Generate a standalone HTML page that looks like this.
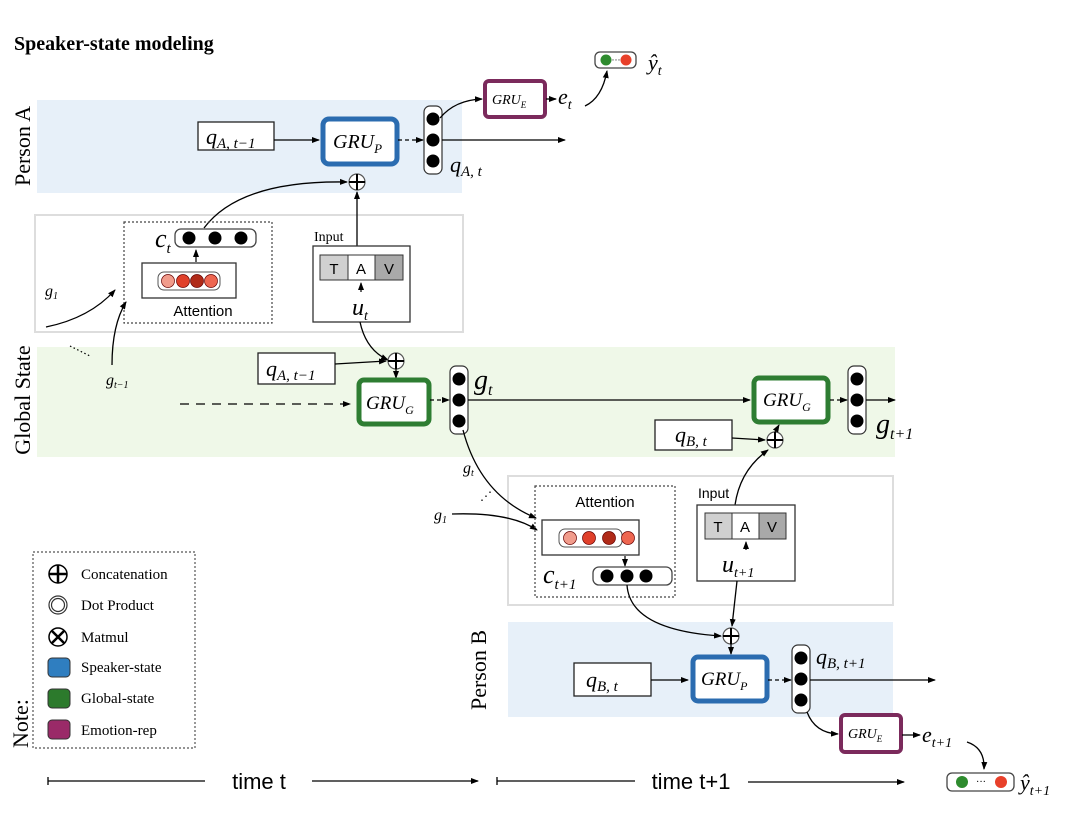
<!DOCTYPE html>
<html><head><meta charset="utf-8"><style>
html,body{margin:0;padding:0;background:#fff;}
svg{display:block;}
.s{font-family:"Liberation Serif",serif;font-style:italic;}
.r{font-family:"Liberation Serif",serif;}
.a{font-family:"Liberation Sans",sans-serif;}
</style></head><body>
<svg width="1080" height="821" viewBox="0 0 1080 821" xmlns="http://www.w3.org/2000/svg">
<defs>
<marker id="ar" markerWidth="8" markerHeight="8" refX="7" refY="4" orient="auto" markerUnits="userSpaceOnUse"><path d="M0,1 L8,4 L0,7 Z" fill="#000"/></marker>
<g id="cc"><circle r="8" fill="#fff" stroke="#555" stroke-width="1.2"/><path d="M-8,0H8M0,-8V8" stroke="#000" stroke-width="2"/></g>
<g id="v3"><rect x="-9" y="-34" width="18" height="68" rx="6" fill="#fff" stroke="#333" stroke-width="1.2"/><circle cy="-21" r="6.5" fill="#000"/><circle cy="0" r="6.5" fill="#000"/><circle cy="21" r="6.5" fill="#000"/></g>
</defs>
<text x="14" y="50" class="r" font-weight="bold" font-size="20">Speaker-state modeling</text>

<rect x="37" y="100" width="425" height="93" fill="#e7f0f9"/>
<rect x="37" y="347" width="858" height="110" fill="#eff8e8"/>
<rect x="508" y="622" width="385" height="95" fill="#e7f0f9"/>
<rect x="35" y="215" width="428" height="117" fill="#fff" stroke="#ddd" stroke-width="2"/>
<rect x="508" y="476" width="385" height="129" fill="#fff" stroke="#ddd" stroke-width="2"/>

<text transform="translate(30,146) rotate(-90)" text-anchor="middle" class="r" font-size="22">Person A</text>
<text transform="translate(30,400) rotate(-90)" text-anchor="middle" class="r" font-size="22">Global State</text>
<text transform="translate(486,670) rotate(-90)" text-anchor="middle" class="r" font-size="22">Person B</text>

<rect x="198" y="122" width="76" height="28" fill="#fff" stroke="#222" stroke-width="1.3"/>
<text x="206" y="144" class="s" font-size="22">q<tspan font-size="15" dy="4">A, t−1</tspan></text>
<line x1="274" y1="140" x2="319" y2="140" stroke="#000" stroke-width="1.3" marker-end="url(#ar)"/>
<rect x="323" y="119" width="74" height="45" rx="6" fill="#fff" stroke="#2b6cb0" stroke-width="5"/>
<text x="333" y="148" class="s" font-size="20">GRU<tspan font-size="13" dy="5">P</tspan></text>
<line x1="398" y1="140" x2="423" y2="140" stroke="#000" stroke-width="1.3" stroke-dasharray="4,3" marker-end="url(#ar)"/>
<use href="#v3" x="433" y="140"/>
<line x1="442" y1="140" x2="565" y2="140" stroke="#000" stroke-width="1.3" marker-end="url(#ar)"/>
<text x="450" y="172" class="s" font-size="22">q<tspan font-size="15" dy="4">A, t</tspan></text>
<path d="M440,118 Q455,100 482,99" fill="none" stroke="#000" stroke-width="1.3" marker-end="url(#ar)"/>
<rect x="485" y="81" width="60" height="36" rx="4" fill="#fff" stroke="#7b2a5c" stroke-width="4"/>
<text x="492" y="104" class="s" font-size="14">GRU<tspan font-size="9" dy="4">E</tspan></text>
<line x1="546" y1="99" x2="556" y2="99" stroke="#000" stroke-width="1.3" marker-end="url(#ar)"/>
<text x="558" y="104" class="s" font-size="22">e<tspan font-size="14" dy="5">t</tspan></text>
<path d="M585,106 Q602,98 607,71" fill="none" stroke="#000" stroke-width="1.3" marker-end="url(#ar)"/>
<rect x="595" y="52" width="41" height="16" rx="5" fill="#fff" stroke="#444" stroke-width="1.3"/>
<circle cx="606" cy="60" r="5.5" fill="#2e8b2e"/><circle cx="626" cy="60" r="5.5" fill="#e8402a"/>
<text x="616" y="63" text-anchor="middle" font-size="9">···</text>
<text x="648" y="70" class="s" font-size="22">ŷ<tspan font-size="14" dy="5">t</tspan></text>
<use href="#cc" x="357" y="182"/>
<line x1="357" y1="246" x2="357" y2="192" stroke="#000" stroke-width="1.3" marker-end="url(#ar)"/>
<path d="M204,228 Q240,180 347,182" fill="none" stroke="#000" stroke-width="1.3" marker-end="url(#ar)"/>

<rect x="124" y="222" width="148" height="101" fill="none" stroke="#444" stroke-width="1.2" stroke-dasharray="2,2"/>
<text x="155" y="247" class="s" font-size="26">c<tspan font-size="15" dy="6">t</tspan></text>
<rect x="175" y="229" width="81" height="18" rx="6" fill="#fff" stroke="#444" stroke-width="1.3"/>
<circle cx="189" cy="238" r="6.5" fill="#000"/><circle cx="215" cy="238" r="6.5" fill="#000"/><circle cx="241" cy="238" r="6.5" fill="#000"/>
<line x1="196" y1="262" x2="196" y2="250" stroke="#000" stroke-width="1.2" marker-end="url(#ar)"/>
<rect x="142" y="263" width="94" height="35" fill="#fff" stroke="#333" stroke-width="1.3"/>
<rect x="158" y="272" width="62" height="18" rx="6" fill="#fff" stroke="#555" stroke-width="1"/>
<circle cx="168" cy="281" r="6.5" fill="#f19c8c" stroke="#600" stroke-width=".7"/><circle cx="183" cy="281" r="6.5" fill="#e0402a" stroke="#600" stroke-width=".7"/><circle cx="197" cy="281" r="6.5" fill="#b02a18" stroke="#600" stroke-width=".7"/><circle cx="211" cy="281" r="6.5" fill="#ee6650" stroke="#600" stroke-width=".7"/>
<text x="203" y="316" text-anchor="middle" class="a" font-size="15">Attention</text>
<text x="45" y="296" class="s" font-size="16">g<tspan font-size="10" dy="3">1</tspan></text>
<path d="M46,327 Q90,318 115,290" fill="none" stroke="#000" stroke-width="1.3" marker-end="url(#ar)"/>
<path d="M112,365 Q112,325 126,302" fill="none" stroke="#000" stroke-width="1.3" marker-end="url(#ar)"/>
<text x="106" y="385" class="s" font-size="16">g<tspan font-size="10" dy="3">t−1</tspan></text>
<line x1="70" y1="346" x2="90" y2="356" stroke="#000" stroke-width="1.2" stroke-dasharray="1.5,2.5"/>

<text x="314" y="241" class="r" font-size="14">Input</text>
<rect x="313" y="246" width="97" height="76" fill="#fff" stroke="#333" stroke-width="1.3"/>
<rect x="320" y="255" width="28" height="25" fill="#d0d0d0" stroke="#333"/>
<rect x="348" y="255" width="27" height="25" fill="#fff" stroke="#333"/>
<rect x="375" y="255" width="28" height="25" fill="#a9a9a9" stroke="#333"/>
<text x="334" y="274" text-anchor="middle" class="a" font-size="15">T</text>
<text x="361" y="274" text-anchor="middle" class="a" font-size="15">A</text>
<text x="389" y="274" text-anchor="middle" class="a" font-size="15">V</text>
<line x1="361" y1="292" x2="361" y2="283" stroke="#000" stroke-width="1.2" marker-end="url(#ar)"/>
<text x="352" y="315" class="s" font-size="24">u<tspan font-size="14" dy="5">t</tspan></text>

<path d="M360,322 Q366,350 388,360" fill="none" stroke="#000" stroke-width="1.3" marker-end="url(#ar)"/>
<rect x="258" y="353" width="77" height="31" fill="#fff" stroke="#222" stroke-width="1.3"/>
<text x="266" y="376" class="s" font-size="22">q<tspan font-size="15" dy="4">A, t−1</tspan></text>
<line x1="335" y1="364" x2="386" y2="361" stroke="#000" stroke-width="1.3" marker-end="url(#ar)"/>
<use href="#cc" x="396" y="361"/>
<line x1="396" y1="369" x2="396" y2="378" stroke="#000" stroke-width="1.3" marker-end="url(#ar)"/>
<rect x="359" y="380" width="70" height="44" rx="5" fill="#fff" stroke="#2e7d32" stroke-width="5"/>
<text x="366" y="409" class="s" font-size="19">GRU<tspan font-size="12" dy="5">G</tspan></text>
<line x1="180" y1="404" x2="350" y2="404" stroke="#000" stroke-width="1.3" stroke-dasharray="9,7" marker-end="url(#ar)"/>
<line x1="430" y1="400" x2="449" y2="400" stroke="#000" stroke-width="1.3" stroke-dasharray="4,3" marker-end="url(#ar)"/>
<use href="#v3" x="459" y="400"/>
<text x="474" y="389" class="s" font-size="28">g<tspan font-size="16" dy="6">t</tspan></text>
<line x1="468" y1="400" x2="750" y2="400" stroke="#000" stroke-width="1.3" marker-end="url(#ar)"/>
<rect x="754" y="378" width="74" height="44" rx="5" fill="#fff" stroke="#2e7d32" stroke-width="5"/>
<text x="763" y="406" class="s" font-size="19">GRU<tspan font-size="12" dy="5">G</tspan></text>
<line x1="830" y1="400" x2="847" y2="400" stroke="#000" stroke-width="1.3" stroke-dasharray="4,3" marker-end="url(#ar)"/>
<use href="#v3" x="857" y="400"/>
<line x1="866" y1="400" x2="895" y2="400" stroke="#000" stroke-width="1.3" marker-end="url(#ar)"/>
<text x="876" y="433" class="s" font-size="28">g<tspan font-size="16" dy="6">t+1</tspan></text>
<rect x="655" y="420" width="77" height="30" fill="#fff" stroke="#222" stroke-width="1.3"/>
<text x="675" y="442" class="s" font-size="22">q<tspan font-size="15" dy="4">B, t</tspan></text>
<line x1="732" y1="438" x2="765" y2="440" stroke="#000" stroke-width="1.3" marker-end="url(#ar)"/>
<use href="#cc" x="775" y="440"/>
<line x1="775" y1="432" x2="779" y2="425" stroke="#000" stroke-width="1.2" marker-end="url(#ar)"/>
<path d="M735,505 Q740,470 768,450" fill="none" stroke="#000" stroke-width="1.3" marker-end="url(#ar)"/>

<path d="M463,430 Q480,495 536,518" fill="none" stroke="#000" stroke-width="1.3" marker-end="url(#ar)"/>
<text x="463" y="473" class="s" font-size="16">g<tspan font-size="10" dy="3">t</tspan></text>
<text x="480" y="500" font-size="12">⋰</text>
<text x="434" y="520" class="s" font-size="16">g<tspan font-size="10" dy="3">1</tspan></text>
<path d="M452,514 Q510,512 537,530" fill="none" stroke="#000" stroke-width="1.3" marker-end="url(#ar)"/>
<rect x="535" y="486" width="140" height="111" fill="none" stroke="#444" stroke-width="1.2" stroke-dasharray="2,2"/>
<text x="605" y="507" text-anchor="middle" class="a" font-size="15">Attention</text>
<rect x="542" y="520" width="97" height="35" fill="#fff" stroke="#333" stroke-width="1.3"/>
<rect x="559" y="529" width="63" height="18" rx="6" fill="#fff" stroke="#555" stroke-width="1"/>
<circle cx="570" cy="538" r="6.5" fill="#f19c8c" stroke="#600" stroke-width=".7"/><circle cx="589" cy="538" r="6.5" fill="#e0402a" stroke="#600" stroke-width=".7"/><circle cx="609" cy="538" r="6.5" fill="#b02a18" stroke="#600" stroke-width=".7"/><circle cx="628" cy="538" r="6.5" fill="#ee6650" stroke="#600" stroke-width=".7"/>
<line x1="625" y1="556" x2="625" y2="566" stroke="#000" stroke-width="1.2" marker-end="url(#ar)"/>
<text x="543" y="583" class="s" font-size="26">c<tspan font-size="15" dy="6">t+1</tspan></text>
<rect x="593" y="567" width="79" height="18" rx="6" fill="#fff" stroke="#444" stroke-width="1.3"/>
<circle cx="607" cy="576" r="6.5" fill="#000"/><circle cx="627" cy="576" r="6.5" fill="#000"/><circle cx="646" cy="576" r="6.5" fill="#000"/>
<path d="M627,585 Q630,630 721,636" fill="none" stroke="#000" stroke-width="1.3" marker-end="url(#ar)"/>

<text x="698" y="498" class="a" font-size="14">Input</text>
<rect x="697" y="505" width="98" height="76" fill="#fff" stroke="#333" stroke-width="1.3"/>
<rect x="705" y="513" width="27" height="26" fill="#d0d0d0" stroke="#333"/>
<rect x="732" y="513" width="27" height="26" fill="#fff" stroke="#333"/>
<rect x="759" y="513" width="27" height="26" fill="#a9a9a9" stroke="#333"/>
<text x="718" y="532" text-anchor="middle" class="a" font-size="15">T</text>
<text x="745" y="532" text-anchor="middle" class="a" font-size="15">A</text>
<text x="772" y="532" text-anchor="middle" class="a" font-size="15">V</text>
<line x1="746" y1="550" x2="746" y2="542" stroke="#000" stroke-width="1.2" marker-end="url(#ar)"/>
<text x="722" y="572" class="s" font-size="24">u<tspan font-size="14" dy="5">t+1</tspan></text>
<line x1="737" y1="581" x2="732" y2="626" stroke="#000" stroke-width="1.3" marker-end="url(#ar)"/>

<use href="#cc" x="731" y="636"/>
<line x1="731" y1="644" x2="731" y2="654" stroke="#000" stroke-width="1.3" marker-end="url(#ar)"/>
<rect x="574" y="663" width="77" height="33" fill="#fff" stroke="#222" stroke-width="1.3"/>
<text x="586" y="687" class="s" font-size="22">q<tspan font-size="15" dy="4">B, t</tspan></text>
<line x1="651" y1="680" x2="688" y2="680" stroke="#000" stroke-width="1.3" marker-end="url(#ar)"/>
<rect x="693" y="657" width="74" height="44" rx="5" fill="#fff" stroke="#2b6cb0" stroke-width="5"/>
<text x="701" y="685" class="s" font-size="19">GRU<tspan font-size="12" dy="5">P</tspan></text>
<line x1="768" y1="680" x2="791" y2="680" stroke="#000" stroke-width="1.3" stroke-dasharray="4,3" marker-end="url(#ar)"/>
<use href="#v3" x="801" y="679"/>
<line x1="810" y1="680" x2="935" y2="680" stroke="#000" stroke-width="1.3" marker-end="url(#ar)"/>
<text x="816" y="664" class="s" font-size="22">q<tspan font-size="15" dy="4">B, t+1</tspan></text>
<path d="M807,712 Q815,733 838,734" fill="none" stroke="#000" stroke-width="1.3" marker-end="url(#ar)"/>
<rect x="841" y="715" width="60" height="37" rx="4" fill="#fff" stroke="#7b2a5c" stroke-width="4"/>
<text x="848" y="738" class="s" font-size="14">GRU<tspan font-size="9" dy="4">E</tspan></text>
<line x1="902" y1="735" x2="920" y2="735" stroke="#000" stroke-width="1.3" marker-end="url(#ar)"/>
<text x="922" y="742" class="s" font-size="22">e<tspan font-size="14" dy="5">t+1</tspan></text>
<path d="M967,742 Q985,748 984,769" fill="none" stroke="#000" stroke-width="1.3" marker-end="url(#ar)"/>
<rect x="947" y="773" width="67" height="18" rx="5" fill="#fff" stroke="#444" stroke-width="1.3"/>
<circle cx="962" cy="782" r="6" fill="#2e8b2e"/><circle cx="1001" cy="782" r="6" fill="#e8402a"/>
<text x="981" y="785" text-anchor="middle" font-size="10">···</text>
<text x="1020" y="790" class="s" font-size="22">ŷ<tspan font-size="14" dy="5">t+1</tspan></text>

<rect x="33" y="552" width="162" height="196" fill="none" stroke="#555" stroke-width="1.2" stroke-dasharray="2,2"/>
<text transform="translate(28,748) rotate(-90)" class="r" font-size="22">Note:</text>
<circle cx="58" cy="574" r="9" fill="#fff" stroke="#000" stroke-width="1.5"/><path d="M49,574H67M58,565V583" stroke="#000" stroke-width="2.5"/>
<circle cx="58" cy="605" r="9" fill="#fff" stroke="#333" stroke-width="1.2"/><circle cx="58" cy="605" r="6.5" fill="#fff" stroke="#333" stroke-width="1.2"/>
<circle cx="58" cy="637" r="9" fill="#fff" stroke="#000" stroke-width="1.5"/><path d="M52,631L64,643M64,631L52,643" stroke="#000" stroke-width="2.5"/>
<rect x="48" y="658" width="22" height="19" rx="4" fill="#2f7ec0" stroke="#333"/>
<rect x="48" y="689" width="22" height="19" rx="4" fill="#2c7a2c" stroke="#333"/>
<rect x="48" y="720" width="22" height="19" rx="4" fill="#9a2a68" stroke="#333"/>
<g class="r" font-size="15">
<text x="81" y="579">Concatenation</text>
<text x="81" y="610">Dot Product</text>
<text x="81" y="642">Matmul</text>
<text x="81" y="672">Speaker-state</text>
<text x="81" y="703">Global-state</text>
<text x="81" y="735">Emotion-rep</text>
</g>

<line x1="48" y1="777" x2="48" y2="785" stroke="#000" stroke-width="1.3"/>
<line x1="48" y1="781" x2="205" y2="781" stroke="#000" stroke-width="1.3"/>
<text x="259" y="789" text-anchor="middle" class="a" font-size="22">time t</text>
<line x1="312" y1="781" x2="478" y2="781" stroke="#000" stroke-width="1.3" marker-end="url(#ar)"/>
<line x1="497" y1="777" x2="497" y2="785" stroke="#000" stroke-width="1.3"/>
<line x1="497" y1="781" x2="635" y2="781" stroke="#000" stroke-width="1.3"/>
<text x="691" y="789" text-anchor="middle" class="a" font-size="22">time t+1</text>
<line x1="748" y1="782" x2="904" y2="782" stroke="#000" stroke-width="1.3" marker-end="url(#ar)"/>
</svg>
</body></html>
